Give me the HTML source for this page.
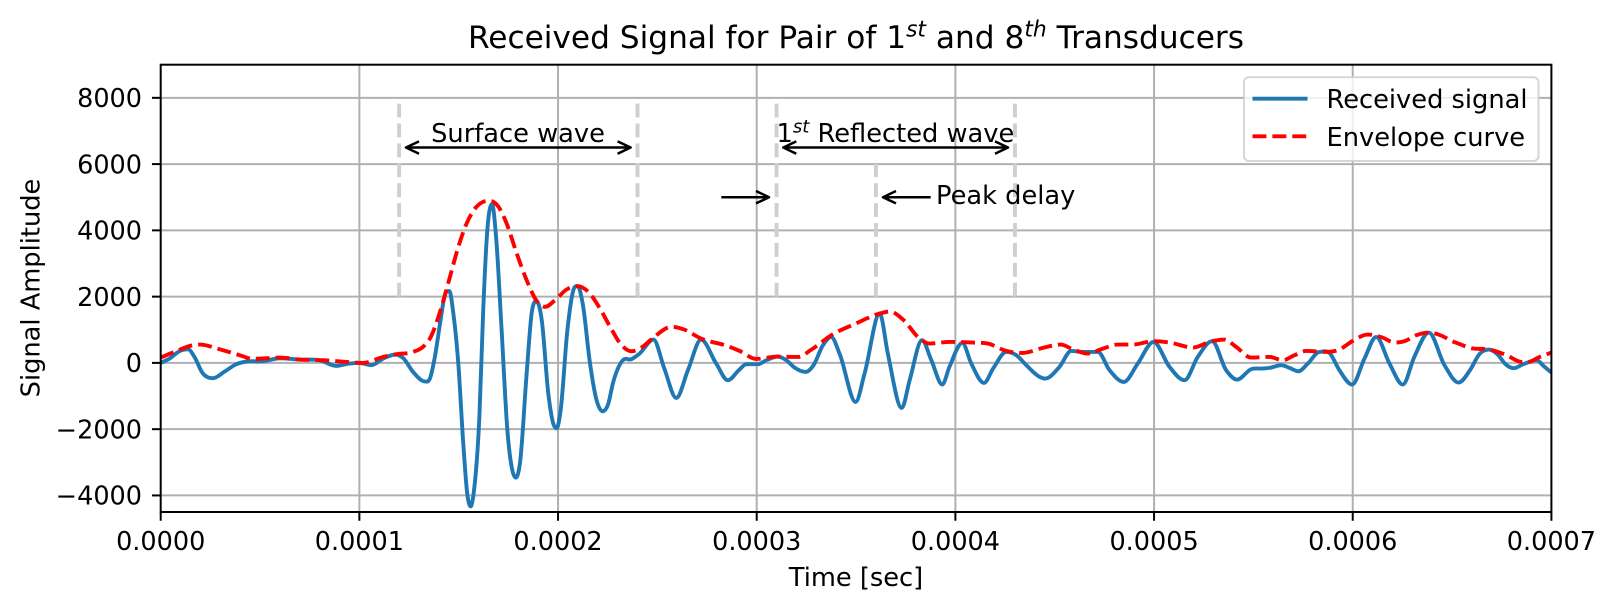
<!DOCTYPE html>
<html>
<head>
<meta charset="utf-8">
<title>Received Signal</title>
<style>
html,body{margin:0;padding:0;background:#fff;width:1608px;height:606px;overflow:hidden}
svg{display:block}
text{font-family:"DejaVu Sans","Liberation Sans",sans-serif;fill:#000}
</style>
</head>
<body>
<svg id="chart" xmlns="http://www.w3.org/2000/svg" width="1608" height="606" viewBox="0 0 1608 606">
  <defs><clipPath id="plot-clip"><rect x="160.7" y="64.7" width="1390.7" height="447.3"/></clipPath></defs>
  <rect x="0" y="0" width="1608" height="606" fill="#fff"/>
  <g id="grid"></g>
  <g id="guides" clip-path="url(#plot-clip)"></g>
  <g id="series" clip-path="url(#plot-clip)"></g>
  <g id="annotations"></g>
  <g id="axes"></g>
  <text x="856" y="48" font-size="31.2" text-anchor="middle">Received Signal for Pair of 1<tspan font-size="21.8" font-style="italic" dy="-11.5">st</tspan><tspan dy="11.5"> and 8</tspan><tspan font-size="21.8" font-style="italic" dy="-11.5">th</tspan><tspan dy="11.5"> Transducers</tspan></text>
  <text x="856" y="586" font-size="25.7" text-anchor="middle">Time [sec]</text>
  <text x="0" y="0" font-size="25.7" text-anchor="middle" transform="translate(39.5 288) rotate(-90)">Signal Amplitude</text>
  <g>
    <rect x="1244" y="77.3" width="294.5" height="83.7" rx="5" ry="5" fill="#fff" fill-opacity="0.8" stroke="#ccc" stroke-opacity="0.8" stroke-width="2"/>
    <line x1="1252.5" y1="98.7" x2="1307.5" y2="98.7" stroke="#1f77b4" stroke-width="3.9"/>
    <text x="1326.5" y="108" font-size="25.7">Received signal</text>
    <line x1="1252.5" y1="136.3" x2="1307.5" y2="136.3" stroke="#f00" stroke-width="3.9" stroke-dasharray="13.9 6"/>
    <text x="1326.5" y="146" font-size="25.7">Envelope curve</text>
  </g>
</svg>
<script>
// Time values are in microseconds; amplitudes in signal units.
const xTickValues = [0, 100, 200, 300, 400, 500, 600, 700];
const xTickLabels = ["0.0000", "0.0001", "0.0002", "0.0003", "0.0004", "0.0005", "0.0006", "0.0007"];
const yTickValues = [-4000, -2000, 0, 2000, 4000, 6000, 8000];
const yTickLabels = ["\u22124000", "\u22122000", "0", "2000", "4000", "6000", "8000"];

const signalTimes = [0,4.5,9.6,13.8,17,21,26.3,32,38,43,51.5,60,70,80,88.4,95,100,106,112,118,122,127,133,135.5,138,140.6,143,145.3,147.3,149.8,152.3,154.3,156,157.9,160.4,162.4,164.4,166.8,168.8,171.6,174.5,177,178.8,180.8,184.2,186.7,189.2,191.8,195.1,197.6,199.3,201.3,204.7,207.7,209.9,212.4,216.1,219.4,222.4,225.3,227.6,232.6,236.8,241,248,253.5,259.5,265.5,272,279.6,285.5,291,294.8,300.6,304.8,310.7,314.9,319,324.6,328.6,333.3,337.5,341.7,349.8,354.3,361.9,366,373,377,383.2,387.9,393.4,397,403.5,408,414.4,419,425.6,430.7,435.7,442.4,445.2,452.4,458.3,464,471.7,477.6,484.8,491.8,499.7,507.8,515.3,522,529.2,536.3,541.8,548.9,554.7,558.1,564,568.2,572.7,577.4,583.3,588.3,593.3,599.7,605.9,611.8,618.5,625.2,631,638.3,646.2,653.3,659,664,668.7,673.3,676.6,681.1,685.8,692.6,696,700];
const signalValues = [0,130,360,410,180,-300,-460,-270,-40,40,50,140,100,80,-90,-20,0,-70,130,250,150,-270,-560,-473,181,1188,2044,2165,1490,-20,-2437,-3947,-4330,-3746,-1631,1692,4008,4793,3806,987,-2034,-3243,-3464,-3041,-322,1490,1863,1289,-926,-1832,-1974,-1430,987,2195,2316,1792,-20,-1128,-1460,-1229,-620,80,110,280,705,-170,-1057,-200,705,-20,-524,-220,-40,-40,80,190,80,-140,-272,-70,530,785,280,-1178,-320,1490,280,-1360,-520,685,80,-655,-120,604,-20,-604,-170,330,230,-70,-420,-473,-120,360,330,330,-220,-574,-20,634,-120,-524,180,655,-220,-504,-190,-170,-150,-70,-150,-252,-20,332,302,-220,-654,130,785,-20,-654,180,916,-70,-594,-222,282,403,232,-20,-161,-40,80,-90,-292];

const envelopeTimes = [0,8,15.4,19.6,29.7,39.8,46.5,60,70,81.7,93.5,101.8,112,118.6,127,132,135.5,140.6,145.6,149.8,154,158.2,162.4,165.7,170,174.1,179.2,184.2,189.6,193.4,198.5,204.3,210.2,215.2,221.1,226.1,232,237,242,248,257,263,272,285,291.4,299.8,310.7,320.8,327.5,337.5,350,361.9,367,373.6,382,387,397,409,416.4,425.6,434,444,453.2,458.3,466.7,473.4,481.8,489.3,499.7,507.8,519.5,529.2,535.5,541.3,548.9,558,564.8,570.7,576.6,586.6,593.3,600,607.6,615,621,626,632,638.3,645.3,649,654,659,668.7,677.5,685,688.4,693.4,700];
const envelopeValues = [160,360,524,554,413,232,120,161,100,80,30,0,181,262,332,483,735,1540,2600,3500,4210,4660,4864,4894,4713,4210,3303,2497,1843,1692,1893,2215,2316,2145,1641,1100,534,352,463,765,1088,1017,735,514,360,120,190,180,400,835,1190,1490,1550,1310,735,584,634,614,584,362,302,453,554,433,282,413,554,554,655,614,463,655,705,483,161,181,80,232,362,332,403,665,856,765,614,655,836,916,805,685,564,453,403,232,30,30,161,312];

const guideTimes = [120, 240, 310, 360, 430];
const guideTops = [8000, 8000, 8000, 6000, 8000];
const guideBottom = 2000;

const X_LEFT = 160.7, X_RIGHT = 1551.4, Y_TOP = 64.7, Y_BOTTOM = 512;
const X_MIN = 0, X_MAX = 700, Y_MIN = -4500, Y_MAX = 9000;
function xScale(t) { return X_LEFT + (t - X_MIN) / (X_MAX - X_MIN) * (X_RIGHT - X_LEFT); }
function yScale(v) { return Y_BOTTOM - (v - Y_MIN) / (Y_MAX - Y_MIN) * (Y_BOTTOM - Y_TOP); }

const NS = "http://www.w3.org/2000/svg";
function make(tag, parent, attrs, text) {
  const el = document.createElementNS(NS, tag);
  for (const k in attrs) el.setAttribute(k, attrs[k]);
  if (text !== undefined) el.textContent = text;
  parent.appendChild(el);
  return el;
}

function smoothPath(xs, ys) {
  const n = xs.length;
  const slope = [];
  for (let i = 0; i < n; i++) {
    if (i === 0) { slope[i] = (ys[1] - ys[0]) / (xs[1] - xs[0]); continue; }
    if (i === n - 1) { slope[i] = (ys[i] - ys[i - 1]) / (xs[i] - xs[i - 1]); continue; }
    const h0 = xs[i] - xs[i - 1], h1 = xs[i + 1] - xs[i];
    const d0 = (ys[i] - ys[i - 1]) / h0, d1 = (ys[i + 1] - ys[i]) / h1;
    // flat tangent at local extrema so peaks and troughs stay rounded
    slope[i] = d0 * d1 <= 0 ? 0 : (h1 * d0 + h0 * d1) / (h0 + h1);
  }
  let d = "M" + xScale(xs[0]).toFixed(2) + " " + yScale(ys[0]).toFixed(2);
  for (let i = 0; i < n - 1; i++) {
    const h = xs[i + 1] - xs[i];
    const c1x = xs[i] + h / 3, c1y = ys[i] + slope[i] * h / 3;
    const c2x = xs[i + 1] - h / 3, c2y = ys[i + 1] - slope[i + 1] * h / 3;
    d += "C" + xScale(c1x).toFixed(2) + " " + yScale(c1y).toFixed(2) + " " +
         xScale(c2x).toFixed(2) + " " + yScale(c2y).toFixed(2) + " " +
         xScale(xs[i + 1]).toFixed(2) + " " + yScale(ys[i + 1]).toFixed(2);
  }
  return d;
}

const gridGroup = document.getElementById("grid");
const axesGroup = document.getElementById("axes");
const guidesGroup = document.getElementById("guides");
const seriesGroup = document.getElementById("series");
const annGroup = document.getElementById("annotations");

xTickValues.forEach(function (t, i) {
  const x = xScale(t);
  if (i < xTickValues.length - 1 && i > 0) {
    const g = make("line", gridGroup, {x1: x, x2: x, y1: Y_TOP, y2: Y_BOTTOM, stroke: "#b0b0b0", "stroke-width": 2});
    
    
  }
  const tick = make("line", axesGroup, {x1: x, x2: x, y1: Y_BOTTOM, y2: Y_BOTTOM + 8.75, stroke: "#000", "stroke-width": 2});
  
  
  const label = make("text", axesGroup, {x: x, y: 550, "font-size": 25.5, "text-anchor": "middle"}, xTickLabels[i]);
  
  
});

yTickValues.forEach(function (v, i) {
  const y = yScale(v);
  const g = make("line", gridGroup, {x1: X_LEFT, x2: X_RIGHT, y1: y, y2: y, stroke: "#b0b0b0", "stroke-width": 2});
  
  
  const tick = make("line", axesGroup, {x1: X_LEFT - 8.75, x2: X_LEFT, y1: y, y2: y, stroke: "#000", "stroke-width": 2});
  
  
  const label = make("text", axesGroup, {x: 142, y: y + 9.2, "font-size": 25.5, "text-anchor": "end"}, yTickLabels[i]);
  
  
});

const spine = make("rect", axesGroup, {x: X_LEFT, y: Y_TOP, width: X_RIGHT - X_LEFT, height: Y_BOTTOM - Y_TOP, fill: "none", stroke: "#000", "stroke-width": 2});



guideTimes.forEach(function (t, i) {
  const x = xScale(t);
  const g = make("line", guidesGroup, {x1: x, x2: x, y1: yScale(guideBottom), y2: yScale(guideTops[i]), stroke: "#cfcfcf", "stroke-width": 3.9, "stroke-dasharray": "13.9 6"});
  
  
});

const signalLine = make("path", seriesGroup, {d: smoothPath(signalTimes, signalValues), fill: "none", stroke: "#1f77b4", "stroke-width": 3.9, "stroke-linejoin": "round"});



const envelopeLine = make("path", seriesGroup, {d: smoothPath(envelopeTimes, envelopeValues), fill: "none", stroke: "#f00", "stroke-width": 3.9, "stroke-dasharray": "13.9 6"});



function arrowHead(tipX, y, dir) {
  const len = 13, half = 6.2;
  return "M" + (tipX - dir * len) + " " + (y - half) + "L" + tipX + " " + y + "L" + (tipX - dir * len) + " " + (y + half);
}
function arrow(name, x1, x2, y, startHead) {
  const dir = x2 > x1 ? 1 : -1;
  let d = "M" + x1 + " " + y + "L" + x2 + " " + y + arrowHead(x2, y, dir);
  if (startHead) d += arrowHead(x1, y, -dir);
  const a = make("path", annGroup, {d: d, fill: "none", stroke: "#000", "stroke-width": 2.5, "stroke-linejoin": "round"});
  
  
}
arrow("surface-wave-arrow", 406, 630.6, yScale(6500), true);
arrow("reflected-wave-arrow", 783.3, 1008, yScale(6500), true);
arrow("peak-delay-left-arrow", 721.3, 769, yScale(5000), false);
arrow("peak-delay-right-arrow", 930.7, 883, yScale(5000), false);

const surfaceText = make("text", annGroup, {x: 518, y: 142, "font-size": 25.7, "text-anchor": "middle"}, "Surface wave");



const reflectedText = make("text", annGroup, {x: 776.5, y: 142, "font-size": 25.7});


make("tspan", reflectedText, {}, "1");
make("tspan", reflectedText, {"font-size": 18.1, "font-style": "italic", dy: -9.5}, "st");
make("tspan", reflectedText, {dy: 9.5}, " Reflected wave");

const peakText = make("text", annGroup, {x: 936, y: 204, "font-size": 25.7}, "Peak delay");


</script>
</body>
</html>
